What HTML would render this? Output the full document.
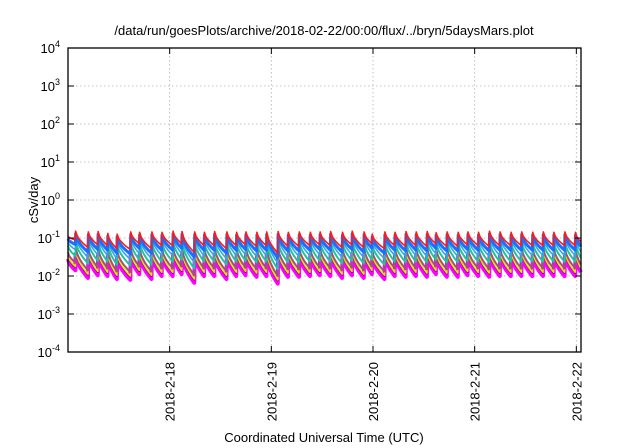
<!DOCTYPE html>
<html><head><meta charset="utf-8"><style>
html,body{margin:0;padding:0;background:#fff;width:640px;height:448px;overflow:hidden}
svg text{font-family:"Liberation Sans",sans-serif;fill:#000}
</style></head><body>
<svg id="chart" width="640" height="448" viewBox="0 0 640 448" xmlns="http://www.w3.org/2000/svg">
<text x="324" y="35" font-size="13" text-anchor="middle">/data/run/goesPlots/archive/2018-02-22/00:00/flux/../bryn/5daysMars.plot</text>
<text transform="translate(38,200) rotate(-90)" font-size="13" text-anchor="middle">cSv/day</text>
<text x="324" y="442" font-size="13" text-anchor="middle">Coordinated Universal Time (UTC)</text>
<g id="grid"></g>
<g id="series"></g>
<g id="axes"></g>
</svg>
<script>
// ---- data ----
const dayLabels = ["2018-2-18","2018-2-19","2018-2-20","2018-2-21","2018-2-22"];
const dayHours = [24,48,72,96,120];
const yTickExps = [-4,-3,-2,-1,0,1,2,3,4];
// tooth peak times (hours since 2018-02-17 00:00)
const peakH = [0,1.8,4.8,7.1,9.4,11.6,14.8,16.9,19.8,22.2,24.8,26.9,29.9,32.2,34.6,37.5,39.8,42.0,44.6,46.9,49.6,52.0,54.6,57.2,59.5,62.0,64.8,67.1,69.9,71.8,74.8,77.2,79.8,82.2,84.8,86.9,89.5,92.1,94.4,96.9,99.5,102.0,104.6,107.1,109.7,112.2,114.7,117.3,119.8];
// red series peak values (log10 cSv/day)
const peakV = [-0.95,-0.82,-0.84,-0.83,-0.88,-0.9,-0.84,-0.85,-0.84,-0.85,-0.82,-0.83,-0.84,-0.85,-0.83,-0.84,-0.85,-0.84,-0.85,-0.84,-0.83,-0.85,-0.84,-0.85,-0.84,-0.83,-0.85,-0.82,-0.84,-0.9,-0.84,-0.85,-0.83,-0.84,-0.83,-0.86,-0.84,-0.85,-0.84,-0.85,-0.82,-0.84,-0.85,-0.84,-0.85,-0.84,-0.85,-0.84,-0.85];
// red series value reached just before the next peak
const troughV = [-1.05,-1.25,-1.18,-1.2,-1.28,-1.3,-1.15,-1.28,-1.2,-1.2,-1.15,-1.38,-1.2,-1.2,-1.28,-1.2,-1.18,-1.22,-1.2,-1.4,-1.22,-1.22,-1.2,-1.18,-1.2,-1.25,-1.18,-1.25,-1.15,-1.28,-1.2,-1.22,-1.2,-1.22,-1.15,-1.22,-1.22,-1.18,-1.2,-1.22,-1.2,-1.2,-1.2,-1.2,-1.2,-1.2,-1.2,-1.2,-1.1];
// per-series offsets (log10) at peak and at trough relative to red
const seriesNames = ["magenta","navy","yellow","mauve","teal","cyan","blue","red"];
const seriesColors = ["#ff00ff","#1a1a7a","#f0e000","#a0507a","#1fc49a","#30a8e0","#1a6fff","#ff1a1a"];
const seriesWidths = [4,1.6,1.6,2,2,1.6,3,1.6];
const peakOff = [-0.6,-0.52,-0.5,-0.42,-0.25,-0.14,-0.07,0];
const troughOff = [-0.8,-0.72,-0.7,-0.6,-0.42,-0.26,-0.12,0];
// ---- scales ----
const L=68,R=581,T=48,B=352,H0=0,H1=121.1;
const xS=h=>L+(h-H0)/(H1-H0)*(R-L);
const yS=lv=>B-(lv-(-4))/8*(B-T);
const NS="http://www.w3.org/2000/svg";
function mk(tag,attrs,parent){const e=document.createElementNS(NS,tag);for(const k in attrs)e.setAttribute(k,attrs[k]);parent.appendChild(e);return e;}
const grid=document.getElementById('grid'),axes=document.getElementById('axes'),ser=document.getElementById('series');
yTickExps.forEach(ex=>{
  const y=yS(ex);
  if(ex>-4&&ex<4){const g=mk('line',{x1:L,x2:R,y1:y,y2:y,stroke:'#b0b0b0','stroke-width':0.8,'stroke-dasharray':'1.5,2.5'},grid);
  
  }
  const t=mk('line',{x1:L,x2:L+6,y1:y,y2:y,stroke:'#000'},axes);
  
  
  const t2=mk('line',{x1:R-6,x2:R,y1:y,y2:y,stroke:'#000'},axes);
  
  
  const tx=mk('text',{x:60,y:y+5,'font-size':13,'text-anchor':'end'},axes);
  
  
  tx.innerHTML='10<tspan dy="-6" font-size="9">'+ex+'</tspan>';
});
dayHours.forEach((h,i)=>{
  const x=xS(h);
  const g=mk('line',{x1:x,x2:x,y1:T,y2:B,stroke:'#b0b0b0','stroke-width':0.8,'stroke-dasharray':'1.5,2.5'},grid);
  
  
  const t=mk('line',{x1:x,x2:x,y1:B-6,y2:B,stroke:'#000'},axes);
  
  
  const t2=mk('line',{x1:x,x2:x,y1:T,y2:T+6,stroke:'#000'},axes);
  
  
  const tx=mk('text',{transform:'translate('+(x+5)+','+(B+10)+') rotate(-90)','font-size':13,'text-anchor':'end'},axes);
  
  
  tx.textContent=dayLabels[i];
});
const frame=mk('rect',{x:L,y:T,width:R-L,height:B-T,fill:'none',stroke:'#000','stroke-width':1.3},axes);


seriesNames.forEach((nm,s)=>{
  const pts=[];
  for(let i=0;i<peakH.length;i++){
    const h0=peakH[i],h1=(i+1<peakH.length)?peakH[i+1]:H1;
    const p=peakV[i]+peakOff[s],tr=troughV[i]+troughOff[s];
    const n=8;
    for(let k=0;k<=n;k++){const f=k/n;const v=p+(tr-p)*Math.pow(f,0.6);pts.push(xS(h0+(h1-h0)*f*0.97).toFixed(1)+','+yS(v).toFixed(1));}
  }
  const pl=mk('polyline',{points:pts.join(' '),fill:'none',stroke:seriesColors[s],'stroke-width':seriesWidths[s],'stroke-linejoin':'round'},ser);
  
  
});
</script>
</body></html>
